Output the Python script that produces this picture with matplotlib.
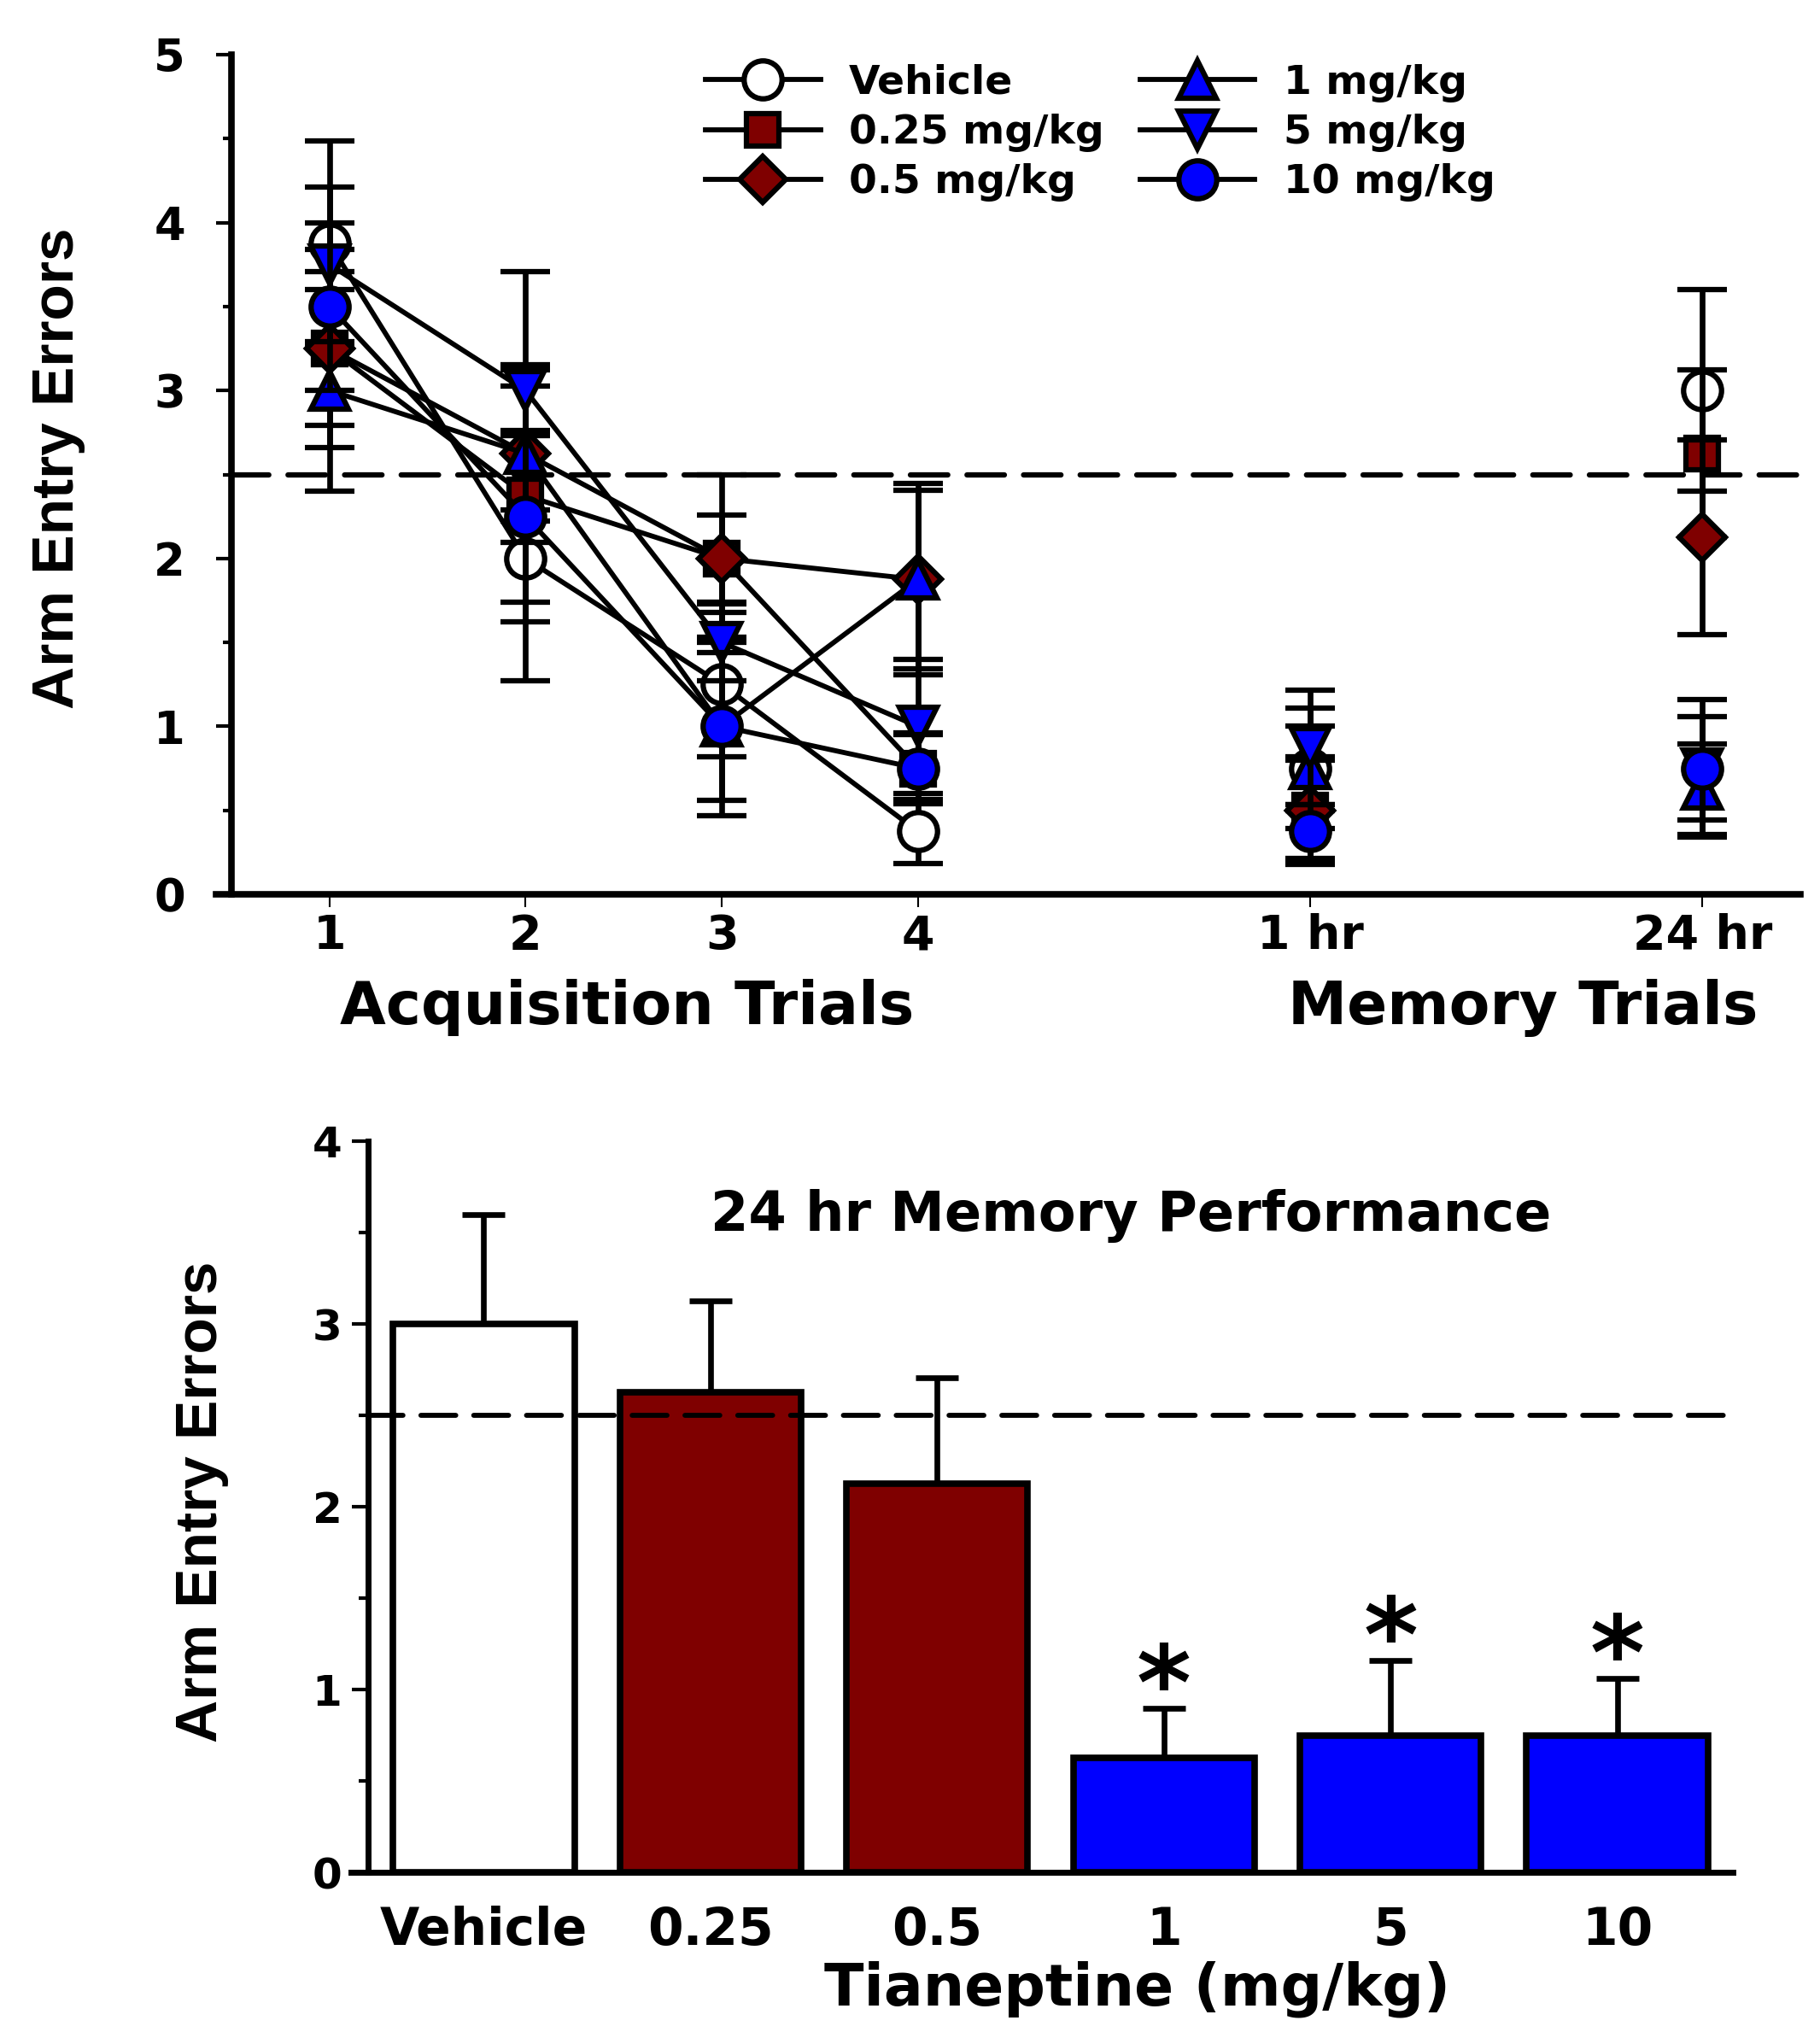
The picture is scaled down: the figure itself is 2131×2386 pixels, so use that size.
import numpy as np
import matplotlib
matplotlib.use('Agg')
import matplotlib.pyplot as plt
from matplotlib.lines import Line2D
from matplotlib import font_manager

plt.rcParams['font.family'] = ['DejaVu Sans']
plt.rcParams['font.weight'] = 'bold'

# condensed face for the y labels if it is there
names = {f.name for f in font_manager.fontManager.ttflist}
if 'Liberation Sans Narrow' in names:
    ylab_font, ylab_size = 'Liberation Sans Narrow', 61
else:
    ylab_font, ylab_size = 'Liberation Sans', 50

# ---- data ----
trial_pos = [1, 2, 3, 4, 6, 8]
trial_labels = ['1', '2', '3', '4', '1 hr', '24 hr']
groups = ['Vehicle', '0.25 mg/kg', '0.5 mg/kg', '1 mg/kg', '5 mg/kg', '10 mg/kg']

vehicle_mean = [3.875, 2.0, 1.25, 0.375, 0.75, 3.0]
vehicle_sem = [0.61, 0.73, 0.43, 0.19, 0.36, 0.6]
d025_mean = [3.25, 2.375, 2.0, 0.75, 0.5, 2.625]
d025_sem = [0.46, 0.75, 0.26, 0.21, 0.3, 0.5]
d05_mean = [3.25, 2.625, 2.0, 1.875, 0.5, 2.125]
d05_sem = [0.59, 0.4, 0.5, 0.53, 0.32, 0.58]
d1_mean = [3.0, 2.625, 1.0, 1.875, 0.75, 0.625]
d1_sem = [0.6, 0.53, 0.53, 0.57, 0.25, 0.27]
d5_mean = [3.75, 3.0, 1.5, 1.0, 0.875, 0.75]
d5_sem = [0.46, 0.71, 0.23, 0.4, 0.34, 0.41]
d10_mean = [3.5, 2.25, 1.0, 0.75, 0.375, 0.75]
d10_sem = [0.5, 0.51, 0.44, 0.2, 0.16, 0.31]

bar_labels = ['Vehicle', '0.25', '0.5', '1', '5', '10']
bar_mean = [3.0, 2.625, 2.125, 0.625, 0.75, 0.75]
bar_sem = [0.6, 0.5, 0.58, 0.27, 0.41, 0.31]
significant = [False, False, False, True, True, True]
chance = 2.5

maroon = '#7f0000'
blue = '#0000ff'
styles = [('o', 'white', 32), ('s', maroon, 27), ('D', maroon, 27),
          ('^', blue, 32), ('v', blue, 32), ('o', blue, 32)]
means = [vehicle_mean, d025_mean, d05_mean, d1_mean, d5_mean, d10_mean]
sems = [vehicle_sem, d025_sem, d05_sem, d1_sem, d5_sem, d10_sem]
bar_colors = ['white', maroon, maroon, blue, blue, blue]

W, H = 2131, 2386
fig = plt.figure(figsize=(W / 100, H / 100), dpi=100)

# ---- top panel ----
ax1 = fig.add_axes([271 / W, 1 - 1047 / H, (2108 - 271) / W, (1047 - 64) / H])
x = np.array(trial_pos)
for i, (m, s) in enumerate(zip(means, sems)):
    mk, fc, ms = styles[i]
    kw = dict(marker=mk, ms=ms, mfc=fc, mec='k', mew=4.5, color='k',
              ecolor='k', elinewidth=4.8, capsize=21, capthick=4.8)
    ax1.errorbar(x[:4], m[:4], yerr=s[:4], lw=4.2, zorder=3 + i * 0.1, **kw)
    ax1.errorbar(x[4:], m[4:], yerr=s[4:], linestyle='none', zorder=3 + i * 0.1, **kw)

ax1.axhline(chance, color='k', lw=4.5, dashes=(7, 3.6), dash_capstyle='round', zorder=2)
ax1.set_xlim(0.5, 8.5)
ax1.set_ylim(0, 5)
ax1.set_xticks(trial_pos)
ax1.set_xticklabels(trial_labels)
ax1.set_yticks(range(6))
ax1.set_yticks(np.arange(0.5, 5, 1), minor=True)
ax1.tick_params(axis='x', length=11, width=1.5, pad=5, labelsize=40)
ax1.tick_params(axis='y', which='major', length=13, width=3, pad=26, labelsize=38)
ax1.tick_params(axis='y', which='minor', length=7, width=3)
for side in ['top', 'right']:
    ax1.spines[side].set_visible(False)
for side in ['left', 'bottom']:
    ax1.spines[side].set_linewidth(5.5)
ax1.spines['bottom'].set_bounds(0.5 - 18 / (1837 / 8), 8.5)

fig.text(0.3444, 0.5055, 'Acquisition Trials', ha='center', va='center', fontsize=50)
fig.text(0.837, 0.5055, 'Memory Trials', ha='center', va='center', fontsize=50)
fig.text(68 / W, 1 - 548 / H, 'Arm Entry Errors', rotation=90, ha='center', va='center',
         family=ylab_font, fontsize=ylab_size, fontweight='bold')

handles = [Line2D([], [], color='k', lw=4.2, marker=st[0], ms=st[2], mfc=st[1],
                  mec='k', mew=4.5) for st in styles]
fig.legend(handles, groups, loc='upper left', bbox_to_anchor=(826 / W, 1 - 75 / H),
           ncol=2, frameon=False, fontsize=34, handlelength=2.85, handletextpad=0.7,
           columnspacing=0.9, labelspacing=0.28, borderpad=0, borderaxespad=0)

# ---- bottom panel ----
ax2 = fig.add_axes([431 / W, 1 - 2192 / H, (2029 - 431) / W, (2192 - 1336) / H])
xb = np.arange(len(bar_labels))
ax2.bar(xb, bar_mean, width=0.8, color=bar_colors, edgecolor='k', linewidth=5.5, zorder=3)
ax2.errorbar(xb, bar_mean, yerr=[np.zeros(len(xb)), bar_sem], fmt='none', ecolor='k',
             elinewidth=4.8, capsize=18, capthick=4.8, zorder=2)
ax2.axhline(chance, color='k', lw=4.2, dashes=(7, 3.6), dash_capstyle='round', zorder=4)
for xi, m, s, sig in zip(xb, bar_mean, bar_sem, significant):
    if sig:
        ax2.text(xi, m + s - 0.06, '*', ha='center', va='baseline', fontsize=88)
ax2.set_xlim(-0.51, 5.51)
ax2.set_ylim(0, 4)
ax2.set_xticks(xb)
ax2.set_xticklabels(bar_labels)
ax2.set_yticks(range(5))
ax2.set_yticks(np.arange(0.5, 4, 1), minor=True)
ax2.tick_params(axis='x', length=0, pad=28, labelsize=43)
ax2.tick_params(axis='y', which='major', length=14, width=3, pad=8, labelsize=36)
ax2.tick_params(axis='y', which='minor', length=8, width=3)
for side in ['top', 'right']:
    ax2.spines[side].set_visible(False)
for side in ['left', 'bottom']:
    ax2.spines[side].set_linewidth(5)
ax2.spines['bottom'].set_bounds(-0.51 - 20 / (1598 / 6.02), 5.51)
ax2.text(0.559, 0.898, '24 hr Memory Performance', transform=ax2.transAxes,
         ha='center', va='center', fontsize=46)

fig.text(0.625, 0.024, 'Tianeptine (mg/kg)', ha='center', va='center', fontsize=49)
fig.text(236 / W, 1 - 1758 / H, 'Arm Entry Errors', rotation=90, ha='center', va='center',
         family=ylab_font, fontsize=ylab_size, fontweight='bold')

fig.savefig('out.png', dpi=100)
